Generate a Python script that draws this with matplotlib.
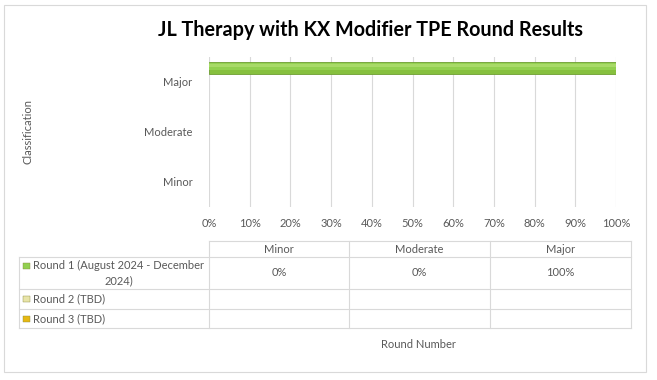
import matplotlib
matplotlib.use("Agg")
import matplotlib.pyplot as plt
from matplotlib.lines import Line2D
from matplotlib.patches import Rectangle

# ---- data ----
categories = ["Minor", "Moderate", "Major"]
series_names = ["Round 1 (August 2024 - December\n2024)", "Round 2 (TBD)", "Round 3 (TBD)"]
round1 = [0, 0, 100]
round2 = [None, None, None]
round3 = [None, None, None]
series_values = [round1, round2, round3]
series_colors = ["#92D050", "#E8E4A8", "#E6B812"]
xticks = [0, 10, 20, 30, 40, 50, 60, 70, 80, 90, 100]
xtick_labels = [f"{v}%" for v in xticks]
title = "JL Therapy with KX Modifier TPE Round Results"

W, H = 657, 380
plt.rcParams['font.family'] = ['Lato', 'DejaVu Sans']
TXT = "#595959"
GRID = "#D9D9D9"
FS = 8

fig = plt.figure(figsize=(W / 100, H / 100), dpi=100)

def fx(x):
    return x / W

def fy(y):
    return 1 - y / H

# outer chart border
fig.add_artist(Rectangle((fx(4), fy(372)), fx(646) - fx(4), fy(5) - fy(372),
                         transform=fig.transFigure, fill=False, edgecolor=GRID, lw=0.8))

# plot area
L, R, T, B = 209, 616, 57, 207
ax = fig.add_axes([fx(L), fy(B), fx(R) - fx(L), fy(T) - fy(B)])
ax.set_xlim(0, 100)
ax.set_ylim(-0.5, 2.5)
for s in ax.spines.values():
    s.set_visible(False)
ax.set_xticks(xticks)
ax.set_xticklabels(xtick_labels, fontsize=FS, color=TXT)
ax.set_yticks(range(len(categories)))
ax.set_yticklabels(categories, fontsize=FS, color=TXT)
ax.tick_params(length=0, pad=8)
ax.tick_params(axis='y', pad=12)
ax.grid(axis='x', color=GRID, lw=0.8)
ax.set_axisbelow(True)

bh = 0.22
offsets = [0.28, 0.0, -0.28]
for vals, off, col in zip(series_values, offsets, series_colors):
    ys = [i + off for i in range(len(categories)) if vals[i] is not None]
    xs = [v for v in vals if v is not None]
    if xs:
        lws = [0.6 if v > 0 else 0 for v in xs]
        ax.barh(ys, xs, height=bh, color="#86C03E", edgecolor="#6E9E32", lw=lws, zorder=3)
        ax.barh([y + 0.03 for y in ys], xs, height=bh * 0.55, color=col,
                edgecolor="none", zorder=4)
        ax.barh([y + 0.05 for y in ys], xs, height=bh * 0.2, color="#A8DA68",
                edgecolor="none", zorder=5)

fig.text(fx(371), fy(30), title, ha='center', va='center', fontsize=14.2,
         fontweight='bold', color='black')
fig.text(fx(28), fy(132), "Classification", rotation=90, ha='center', va='center',
         fontsize=FS, color=TXT)

# data table
cols_x = [209, 349, 490, 631]
left_x = 19
rows_y = [241, 257, 289, 309, 328]

def hline(y, x0, x1):
    fig.add_artist(Line2D([fx(x0), fx(x1)], [fy(y), fy(y)], transform=fig.transFigure,
                          color=GRID, lw=0.8))

def vline(x, y0, y1):
    fig.add_artist(Line2D([fx(x), fx(x)], [fy(y0), fy(y1)], transform=fig.transFigure,
                          color=GRID, lw=0.8))

hline(rows_y[0], cols_x[0], cols_x[-1])
for y in rows_y[1:]:
    hline(y, left_x, cols_x[-1])
vline(left_x, rows_y[1], rows_y[-1])
for x in cols_x:
    vline(x, rows_y[0], rows_y[-1])

for j, c in enumerate(categories):
    fig.text(fx((cols_x[j] + cols_x[j + 1]) / 2), fy((rows_y[0] + rows_y[1]) / 2 + 0.5), c,
             ha='center', va='center', fontsize=FS, color=TXT)

for i, (name, vals, col) in enumerate(zip(series_names, series_values, series_colors)):
    y0, y1 = rows_y[i + 1], rows_y[i + 2]
    yc = (y0 + y1) / 2
    lines = name.split("\n")
    if len(lines) == 2:
        ly = y0 + 8.5
        fig.text(fx(33), fy(ly), lines[0], ha='left', va='center', fontsize=FS, color=TXT)
        fig.text(fx(119), fy(ly + 15.5), lines[1], ha='center', va='center', fontsize=FS, color=TXT)
    else:
        ly = yc
        fig.text(fx(33), fy(ly), lines[0], ha='left', va='center', fontsize=FS, color=TXT)
    fig.add_artist(Rectangle((fx(23), fy(ly + 3)), fx(7), fy(0) - fy(6),
                             transform=fig.transFigure, facecolor=col, edgecolor="#8A8A40", lw=0.3))
    for j, v in enumerate(vals):
        if v is not None:
            fig.text(fx((cols_x[j] + cols_x[j + 1]) / 2), fy(yc), f"{v}%",
                     ha='center', va='center', fontsize=FS, color=TXT)

fig.text(fx(418), fy(345), "Round Number", ha='center', va='center', fontsize=FS, color=TXT)

fig.savefig("out.png", dpi=100, facecolor='white')
